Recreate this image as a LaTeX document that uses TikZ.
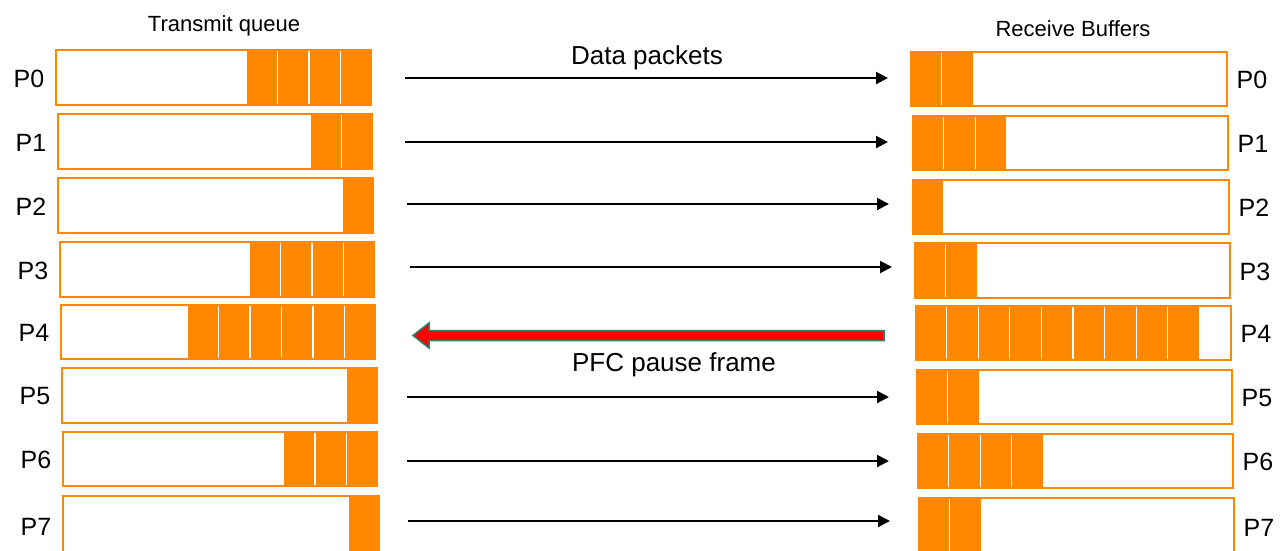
\documentclass[tikz,border=0pt]{standalone}
\usepackage{fontspec}
\setmainfont{Liberation Sans}
\usetikzlibrary{arrows.meta}
\definecolor{qorange}{RGB}{255,136,0}
\definecolor{qteal}{RGB}{40,130,110}
\begin{document}
\begin{tikzpicture}[x=1pt,y=-1pt,
  qbox/.style={draw=qorange, line width=1.8pt, fill=white, inner sep=0pt, outer sep=0pt, anchor=north west},
  cellsep/.style={draw=white, line width=1.3pt},
  plabel/.style={font=\fontsize{25}{25}\selectfont, inner sep=0pt},
  titletext/.style={font=\fontsize{22}{22}\selectfont, inner sep=0pt, anchor=base},
  captext/.style={font=\fontsize{26}{26}\selectfont, inner sep=0pt, anchor=base},
  dataarrow/.style={draw=black, line width=2pt, -{Triangle[length=12pt,width=12pt]}},
  pfcarrow/.style={draw=qteal, fill=red, line width=1.5pt, line join=miter}
]
\useasboundingbox (0,0) rectangle (1285,550);
\fill[white] (0,0) rectangle (1285,550);

% rows: index / left x0 / left x1 / left y0 / left y1 / left cells / right x0 / right x1 / right y0 / right y1 / right cells
\foreach \i/\lxa/\lxb/\lya/\lyb/\nl/\rxa/\rxb/\rya/\ryb/\nr in {
  0/55/372/49/106/4/910/1228/51/107/2,
  1/57/373/113/170/2/912/1229/115/171/3,
  2/57/374/177/234/1/912/1230/179/235/1,
  3/59/375/241/298/4/914/1231/242/299/2,
  4/60/376/304/360/6/915/1232/305/361/9,
  5/61/378/367/424/1/916/1233/369/425/2,
  6/62/378/431/487/3/917/1234/433/489/4,
  7/62/380/495/556/1/918/1235/497/556/2}{
  \pgfmathsetmacro\wL{\lxb-\lxa-1.8}
  \pgfmathsetmacro\hL{\lyb-\lya-1.8}
  \pgfmathsetmacro\wR{\rxb-\rxa-1.8}
  \pgfmathsetmacro\hR{\ryb-\rya-1.8}
  % transmit queue box
  \node[qbox, minimum width=\wL pt, minimum height=\hL pt] (L\i) at (\lxa+0.9,\lya+0.9) {};
  \fill[qorange] (\lxb-\nl*31.5,\lya) rectangle (\lxb,\lyb);
  \foreach \k in {1,...,\nl}{
    \draw[cellsep] (\lxb-\k*31.5,\lya+2) -- (\lxb-\k*31.5,\lyb-2);
  }
  % receive buffer box
  \node[qbox, minimum width=\wR pt, minimum height=\hR pt] (R\i) at (\rxa+0.9,\rya+0.9) {};
  \fill[qorange] (\rxa,\rya) rectangle (\rxa+\nr*31.6,\ryb);
  \foreach \k in {1,...,\nr}{
    \draw[cellsep] (\rxa+\k*31.6,\rya+2) -- (\rxa+\k*31.6,\ryb-2);
  }
  % labels
  \node[plabel] (LP\i) at (\lxa-26,{(\lya+\lyb)/2+1}) {P\i};
  \node[plabel] (RP\i) at (\rxb+24,{(\rya+\ryb)/2+1}) {P\i};
}

% data packet arrows
\foreach \i/\xa/\xb/\ya in {0/405/888/78, 1/405/888/142, 2/407/889/204, 3/410/892/267,
                            5/407/889/397, 6/407/889/461, 7/408/890/521}{
  \coordinate (as\i) at (\xa,\ya);
  \coordinate (ae\i) at (\xb,\ya);
  \draw[dataarrow] (as\i) -- (ae\i);
}

% PFC pause frame arrow (P4)
\draw[pfcarrow] (413,335.5) -- (429,323) -- (429,330.5) -- (884,330.5) -- (884,340.5)
  -- (429,340.5) -- (429,348) -- cycle;

% texts
\node[titletext] (tq) at (224,31) {Transmit queue};
\node[titletext] (rb) at (1073,36) {Receive Buffers};
\node[captext] (dp) at (647,64) {Data packets};
\node[captext] (pfc) at (674,371) {PFC pause frame};
\end{tikzpicture}
\end{document}
